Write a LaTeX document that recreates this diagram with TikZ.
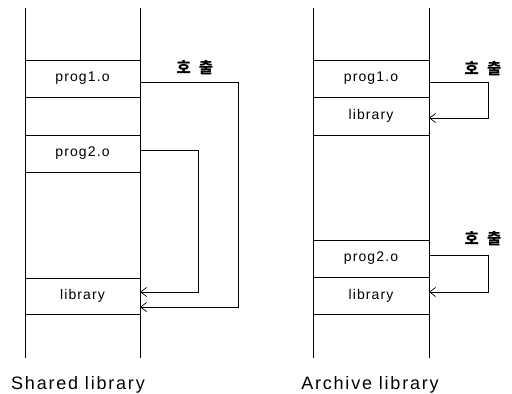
\documentclass[tikz,border=0pt]{standalone}
\usepackage{fontspec}
\setmainfont{Liberation Sans}
\newfontfamily\kofont{Noto Sans CJK KR}
\usetikzlibrary{arrows.meta}
\begin{document}
\begin{tikzpicture}[x=1pt,y=-1pt,
  wall/.style={line width=0.8pt},
  sep/.style={line width=0.8pt},
  lbl/.style={font=\fontsize{14}{15}\selectfont\addfontfeature{LetterSpace=8}},
  titletext/.style={anchor=base,inner sep=0pt,font=\fontsize{18}{19}\selectfont\addfontfeature{LetterSpace=10}},
  calltext/.style={font=\kofont\bfseries\fontsize{15.5}{16}\selectfont},
  conn/.style={line width=0.7pt,-{Straight Barb[length=6pt,width=9pt]}}]
\useasboundingbox (0,0) rectangle (512,394);
% ---------- Shared library ----------
\draw[wall] (25,8) -- (25,358);
\draw[wall] (140,8) -- (140,358);
\foreach \yy in {60,97,135,172,278,314} \draw[sep] (25,\yy) -- (140,\yy);
\node[lbl] (sp1) at (82.5,78.5) {prog1.o};
\node[lbl] (sp2) at (82.5,153.5) {prog2.o};
\node[lbl] (slib) at (82.5,296) {library};
\coordinate (s1out) at (140,82);
\coordinate (s1in) at (140,307);
\coordinate (s2out) at (140,150);
\coordinate (s2in) at (140,292);
\draw[conn] (s1out) -| (238,307) -- (s1in);
\draw[conn] (s2out) -| (198,292) -- (s2in);
\node[calltext] (scall) at (195,68) {호\hspace{8pt}출};
\node[titletext] (stitle) at (78,389) {Shared library};
% ---------- Archive library ----------
\draw[wall] (313,8) -- (313,358);
\draw[wall] (429,8) -- (429,358);
\foreach \yy in {60,97,135,240,277,314} \draw[sep] (313,\yy) -- (429,\yy);
\node[lbl] (ap1) at (371,78.5) {prog1.o};
\node[lbl] (al1) at (371,116) {library};
\node[lbl] (ap2) at (371,258.5) {prog2.o};
\node[lbl] (al2) at (371,295.5) {library};
\coordinate (a1out) at (429,82);
\coordinate (a1in) at (429,118);
\coordinate (a2out) at (429,255);
\coordinate (a2in) at (429,292);
\draw[conn] (a1out) -| (488,118) -- (a1in);
\draw[conn] (a2out) -| (488,292) -- (a2in);
\node[calltext] (acall1) at (483,69) {호\hspace{8pt}출};
\node[calltext] (acall2) at (483,239) {호\hspace{8pt}출};
\node[titletext] (atitle) at (370,389) {Archive library};
\end{tikzpicture}
\end{document}
